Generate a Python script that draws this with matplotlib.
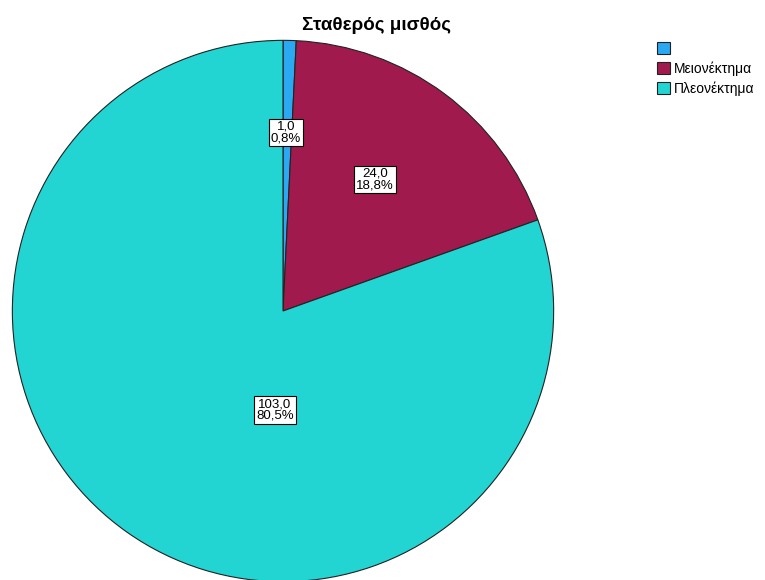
import matplotlib.pyplot as plt
from matplotlib.patches import Patch

plt.rcParams['font.family'] = ['Liberation Sans', 'DejaVu Sans']

title = "Σταθερός μισθός"
categories = ["", "Μειονέκτημα", "Πλεονέκτημα"]
counts = [1.0, 24.0, 103.0]
percents = [0.8, 18.8, 80.5]
colors = ["#2aa8f2", "#a01a4e", "#22d5d2"]

# label spots in pie units (SPSS puts them off-centre)
label_pos = [(0.01, 0.66), (0.34, 0.485), (-0.03, -0.365)]

fig = plt.figure(figsize=(7.65, 5.8), dpi=100)
ax = fig.add_axes([11 / 765, -3 / 580, 544 / 765, 544 / 580])

ax.pie(counts, colors=colors, startangle=90, counterclock=False,
       wedgeprops=dict(edgecolor="#222222", linewidth=0.8), radius=1.0)
ax.set_xlim(-1.005, 1.005)
ax.set_ylim(-1.005, 1.005)
ax.set_aspect("equal")
ax.axis("off")

for (x, y), c, p in zip(label_pos, counts, percents):
    txt = f"{c:.1f}\n{p:.1f}%".replace(".", ",")
    ax.text(x, y, txt, ha="center", va="center", fontsize=9.5, linespacing=0.95,
            bbox=dict(boxstyle="square,pad=0.15", facecolor="white",
                      edgecolor="black", linewidth=0.8))

fig.text(376 / 765, 1 - 25 / 580, title, ha="center", va="center",
         fontsize=13.5, fontweight="bold")

handles = [Patch(facecolor=col, edgecolor="#222222", linewidth=0.8) for col in colors]
fig.legend(handles, categories, loc="upper left", bbox_to_anchor=(651 / 765, 1 - 36 / 580),
           frameon=False, fontsize=10, handlelength=0.95, handleheight=1.0,
           handletextpad=0.3, labelspacing=0.4, borderaxespad=0)

fig.savefig("out.png", dpi=100)
